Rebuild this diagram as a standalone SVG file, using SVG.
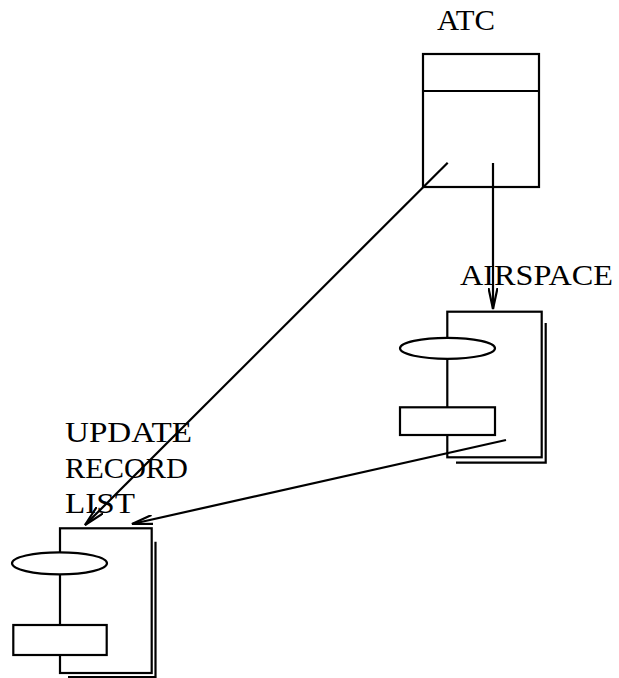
<svg xmlns="http://www.w3.org/2000/svg" width="619" height="678" viewBox="0 0 619 678">
<style>
.ln{fill:none;stroke:#000;stroke-width:2.2}
.wf{fill:#fff;stroke:#000;stroke-width:2.2}
.lb{font-family:"Liberation Serif","DejaVu Serif",serif;font-size:29px;fill:#000}
</style>
<defs>
<marker id="arr" viewBox="0 0 22 10" refX="21" refY="5" markerWidth="22" markerHeight="10" markerUnits="userSpaceOnUse" orient="auto">
<path d="M0,0.5 L21,5 L0,9.5" fill="none" stroke="#000" stroke-width="2.2"/>
</marker>
</defs>
<rect width="619" height="678" fill="#fff"/>
<g id="atc">
<rect class="ln" x="423" y="54" width="116" height="133"/>
<line class="ln" x1="423" y1="91" x2="539" y2="91"/>
<text class="lb" x="437" y="29.5" textLength="58" lengthAdjust="spacingAndGlyphs">ATC</text>
</g>
<g id="airspace">
<polyline class="ln" points="545.7,323 545.7,462.7 456,462.7"/>
<rect class="ln" x="447.3" y="311.7" width="94.4" height="145.6"/>
<ellipse class="wf" cx="447.5" cy="348.3" rx="47.5" ry="10.5"/>
<rect class="wf" x="400" y="407.3" width="95" height="27.7"/>
<text class="lb" x="460" y="285" textLength="153" lengthAdjust="spacingAndGlyphs">AIRSPACE</text>
</g>
<g id="update">
<polyline class="ln" points="155.5,541.7 155.5,677 68,677"/>
<rect class="ln" x="60" y="528.3" width="91.7" height="144.7"/>
<ellipse class="wf" cx="59.5" cy="563.3" rx="47.5" ry="11"/>
<rect class="wf" x="13.3" y="625" width="93.4" height="30"/>
<text class="lb" x="65" y="441.5" textLength="127" lengthAdjust="spacingAndGlyphs">UPDATE</text>
<text class="lb" x="65" y="478" textLength="123" lengthAdjust="spacingAndGlyphs">RECORD</text>
<text class="lb" x="65" y="513" textLength="70" lengthAdjust="spacingAndGlyphs">LIST</text>
</g>
<g id="connectors">
<line class="ln" x1="493" y1="163" x2="493" y2="309" marker-end="url(#arr)"/>
<line class="ln" x1="447.7" y1="162.7" x2="85" y2="525" marker-end="url(#arr)"/>
<line class="ln" x1="506" y1="440" x2="132" y2="524" marker-end="url(#arr)"/>
</g>
</svg>
